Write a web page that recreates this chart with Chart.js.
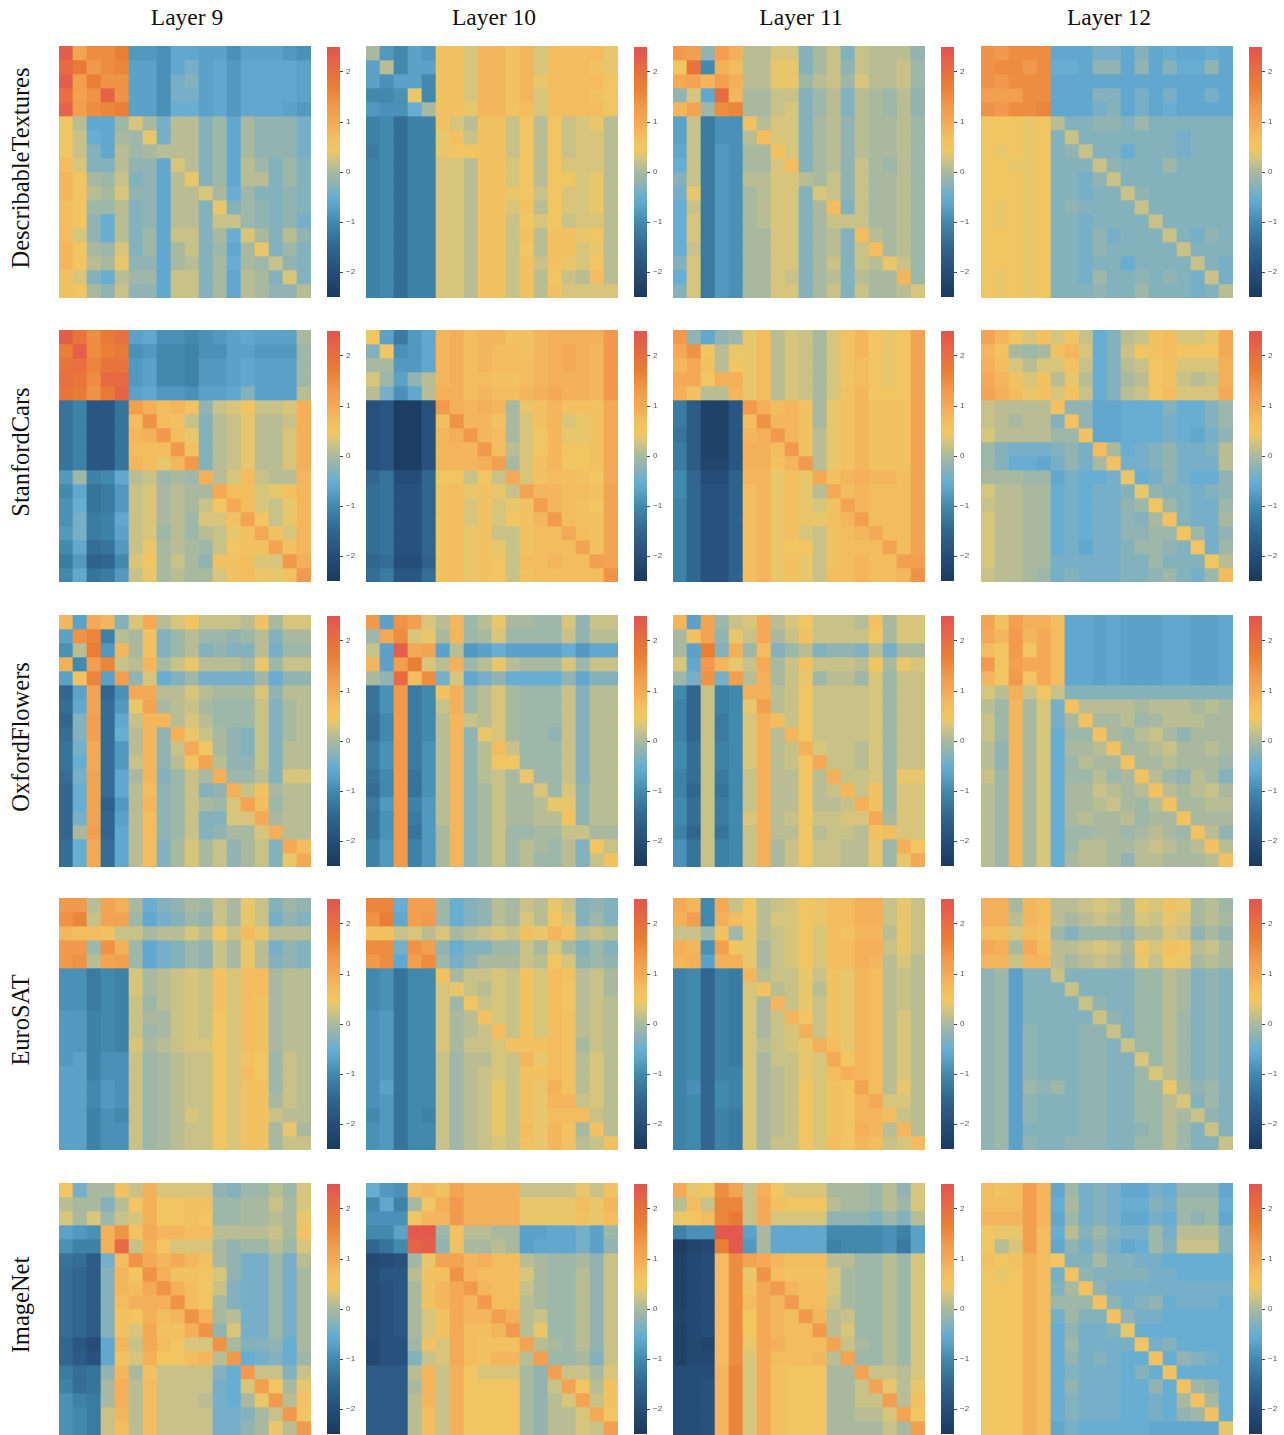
<!DOCTYPE html>
<html>
<head>
<meta charset="utf-8">
<script src="https://cdn.jsdelivr.net/npm/chart.js@4/dist/chart.umd.js"></script>
<style>
  html, body { margin: 0; padding: 0; background: #fff; }
  #page { position: relative; width: 1284px; height: 1435px; overflow: hidden; }
  canvas { position: absolute; }
  .col-title, .row-title { position: absolute; font-family: "Liberation Serif", serif; color: #111; white-space: nowrap; }
  .col-title { font-size: 23.5px; top: 4px; transform: translateX(-50%); }
  .row-title { font-size: 24.5px; left: 21px; transform: translate(-50%, -50%) rotate(-90deg); }
</style>
</head>
<body>
<div id="page"></div>
<script>
const layerLabels = ['Layer 9', 'Layer 10', 'Layer 11', 'Layer 12']
const datasetLabels = ['DescribableTextures', 'StanfordCars', 'OxfordFlowers', 'EuroSAT', 'ImageNet']
const colorbarTicks = [-2, -1, 0, 1, 2]
const colorStopValues = [-2.5, -2, -1.5, -1, -0.7, -0.5, -0.25, 0, 0.3, 0.45, 0.7, 1, 1.3, 1.7, 2, 2.5]
const colorStopHex = ['#1b3a5e', '#264d78', '#306690', '#4289ae', '#5ca1c8', '#68add2', '#8bb3b6', '#a9b9a0', '#d8c57c', '#f0c763', '#f3bd5f', '#f4a956', '#f19a4d', '#e87f35', '#e86f3f', '#e25450']

// all matrix values are in tenths
const describableL9 = [
[23,11,15,15,17,-8,-8,-9,-6,-6,-7,-7,-9,-7,-7,-7,-8,-9],
[21,18,13,15,16,-7,-7,-9,-6,-4,-7,-6,-8,-6,-6,-6,-6,-7],
[23,12,17,14,14,-7,-7,-9,-4,-3,-7,-6,-8,-6,-6,-6,-6,-7],
[20,12,14,22,14,-7,-7,-9,-4,-4,-7,-6,-8,-6,-6,-6,-6,-7],
[22,12,15,16,17,-7,-7,-9,-5,-5,-7,-6,-8,-6,-6,-6,-7,-8],
[5,1,-6,-6,-1,3,0,-4,1,1,-3,-1,-6,0,-2,-2,-2,-4],
[5,2,-5,-6,0,-1,4,-4,1,1,-3,-1,-6,0,-2,-2,-2,-4],
[5,2,-3,-6,1,-1,0,1,1,1,-3,-1,-6,0,-2,-2,-2,-4],
[7,3,-3,-3,1,-2,-2,-6,3,1,-3,-1,-6,1,-1,-3,-1,-3],
[8,5,0,-1,2,-3,-2,-6,1,4,-3,-1,-6,1,1,-3,-1,-3],
[8,5,1,0,3,-2,-2,-6,1,1,3,0,-5,-1,-3,-3,-2,-3],
[7,5,-1,-1,1,-3,-2,-6,1,1,-3,4,-3,-1,-2,-3,-2,-3],
[7,5,-2,-5,1,-3,-2,-6,1,1,-3,2,2,-1,-2,-3,-2,-4],
[7,3,-2,-5,1,-3,-1,-6,2,2,-3,0,-5,3,0,-3,1,-2],
[8,5,0,-1,3,-3,-1,-6,0,2,-3,-1,-6,0,4,-3,-1,-3],
[8,5,1,0,4,-2,-2,-6,0,1,-3,0,-5,0,-1,2,-2,-3],
[6,3,-3,-5,1,-1,-1,-6,2,2,-3,0,-6,1,0,-3,3,-3],
[6,5,0,-2,2,-2,-2,-6,2,2,-3,0,-6,1,0,-2,-2,1]]
const describableL10 = [
[0,-8,-10,-7,-8,6,6,3,8,8,6,8,3,7,7,7,7,4],
[-7,1,-10,-7,-7,6,6,3,8,8,6,8,3,7,7,7,6,4],
[-7,-9,-7,-7,-10,6,6,3,8,8,6,8,4,7,7,7,7,5],
[-10,-10,-9,4,-10,6,6,3,8,8,6,8,3,7,7,7,6,5],
[-8,-9,-9,-5,0,6,6,4,8,8,6,7,3,7,7,7,7,5],
[-11,-10,-14,-11,-11,6,3,1,6,6,2,5,1,5,2,3,4,1],
[-11,-10,-14,-11,-11,4,6,2,6,6,2,5,1,5,2,3,3,1],
[-12,-10,-14,-11,-11,4,5,5,6,6,2,5,1,5,2,3,3,1],
[-11,-10,-14,-11,-11,3,3,1,6,6,3,5,1,5,3,3,3,1],
[-11,-10,-14,-11,-11,3,3,1,6,6,3,5,1,5,5,3,4,1],
[-11,-10,-14,-11,-11,3,3,1,6,6,4,5,2,5,3,3,4,1],
[-11,-10,-14,-11,-11,3,3,1,6,6,3,6,1,5,3,3,4,1],
[-11,-10,-14,-11,-11,3,3,1,6,6,2,5,3,5,2,3,3,1],
[-11,-10,-14,-11,-11,3,3,1,6,6,2,6,1,6,6,4,5,1],
[-11,-10,-14,-11,-11,3,3,1,6,6,2,5,1,6,6,3,4,1],
[-11,-10,-14,-11,-11,3,3,1,6,6,2,6,2,6,4,3,5,1],
[-11,-10,-14,-11,-11,3,3,1,6,6,2,6,1,5,2,1,7,1],
[-11,-10,-14,-11,-11,3,3,1,6,6,2,6,1,6,3,3,3,3]]
const describableL11 = [
[13,12,-2,12,9,1,1,3,3,-3,0,2,-3,2,1,1,1,-2],
[5,19,-10,9,7,1,1,4,4,-3,0,2,-2,2,1,1,2,-1],
[10,11,8,12,9,1,1,4,4,-1,1,2,-1,3,1,1,2,-1],
[-2,3,-6,21,8,0,0,2,2,-3,-1,1,-3,1,0,-1,1,-2],
[8,11,-1,15,16,0,0,2,3,-3,-1,1,-3,1,0,-1,1,-2],
[-7,2,-12,-9,-9,6,1,3,3,-3,0,1,-2,1,0,0,1,-1],
[-7,2,-12,-9,-9,1,7,3,3,-3,0,1,-2,1,0,0,1,-1],
[-6,2,-12,-8,-9,0,0,6,3,-3,0,1,-2,1,0,0,1,-1],
[-5,2,-12,-8,-9,0,0,3,7,-3,0,1,-2,2,0,-1,1,-1],
[-3,2,-12,-8,-9,1,1,3,3,1,0,2,-2,2,0,0,1,-1],
[-4,4,-12,-8,-9,0,1,3,3,-3,3,2,-2,2,0,0,1,-1],
[-5,2,-12,-8,-9,0,1,3,3,-3,0,7,-3,2,0,0,1,-1],
[-5,3,-12,-8,-9,0,1,3,3,-3,0,2,2,2,0,0,1,-1],
[-5,3,-12,-8,-9,0,0,3,3,-3,0,1,-3,7,1,0,1,-1],
[-5,2,-12,-8,-9,0,0,3,3,-3,0,1,-3,2,7,0,1,-1],
[-3,3,-12,-8,-9,0,0,3,3,-3,0,2,-3,2,1,4,2,-1],
[-5,3,-12,-8,-9,0,0,3,2,-3,0,1,-3,1,0,0,8,-1],
[-3,3,-12,-8,-9,0,0,3,3,-3,0,2,-3,2,0,0,1,3]]
const describableL12 = [
[14,13,15,15,15,-6,-6,-6,-4,-4,-6,-3,-6,-5,-6,-6,-5,-6],
[14,15,15,13,15,-5,-5,-6,-2,-2,-6,-2,-6,-3,-5,-5,-2,-6],
[14,13,15,15,15,-6,-6,-6,-6,-6,-6,-6,-6,-6,-6,-6,-6,-6],
[12,12,12,15,15,-6,-6,-6,-3,-3,-6,-4,-6,-4,-6,-6,-4,-6],
[14,13,15,15,16,-6,-6,-6,-4,-3,-6,-4,-6,-5,-6,-6,-6,-6],
[5,5,5,4,5,1,-3,-3,-2,-2,-3,-1,-3,-3,-3,-3,-3,-3],
[5,5,5,4,5,-3,2,-3,-3,-3,-3,-3,-3,-3,-4,-3,-3,-3],
[5,4,5,4,5,-3,-2,2,-3,-3,-5,-3,-3,-3,-4,-3,-3,-3],
[5,5,4,4,5,-3,-3,-3,2,-2,-3,-3,-3,-1,-3,-3,-3,-3],
[5,5,5,4,5,-3,-3,-4,-2,2,-3,-3,-3,-3,-3,-3,-3,-3],
[5,5,5,4,5,-3,-3,-4,-3,-3,2,-2,-3,-3,-3,-3,-3,-3],
[5,4,5,4,5,-3,-2,-3,-3,-3,-3,2,-3,-3,-3,-3,-3,-3],
[5,4,5,4,5,-3,-3,-4,-3,-3,-3,-3,2,-3,-3,-3,-3,-3],
[5,5,5,4,5,-3,-3,-4,-2,-4,-3,-3,-3,2,-3,-4,-2,-3],
[5,5,5,4,5,-3,-3,-4,-2,-3,-3,-3,-3,-3,2,-3,-3,-3],
[5,5,5,4,5,-3,-3,-4,-3,-3,-5,-3,-3,-3,-3,2,-3,-4],
[5,4,5,4,5,-3,-3,-4,-1,-3,-3,-2,-3,-2,-3,-4,2,-4],
[5,4,5,4,5,-3,-3,-3,-2,-3,-3,-1,-3,-3,-3,-4,-3,1]]
const carsL9 = [
[23,19,15,18,20,-7,-6,-9,-9,-10,-9,-8,-7,-6,-7,-7,-7,0],
[17,23,15,17,18,-9,-8,-10,-10,-11,-9,-9,-7,-7,-8,-8,-8,-1],
[19,20,16,19,19,-8,-7,-10,-10,-11,-8,-8,-7,-6,-7,-7,-7,-1],
[20,19,15,21,21,-8,-7,-10,-10,-11,-8,-8,-7,-6,-7,-7,-7,-1],
[19,18,14,18,22,-7,-6,-8,-8,-9,-7,-7,-6,-3,-7,-7,-7,1],
[-13,-11,-18,-18,-13,12,9,7,8,6,-2,2,3,5,2,2,3,9],
[-13,-11,-18,-18,-13,7,14,7,6,2,-3,1,2,4,1,1,2,9],
[-13,-11,-18,-18,-13,8,9,13,7,4,-3,1,2,4,1,1,3,9],
[-13,-11,-18,-18,-13,7,7,7,13,6,-3,1,2,4,1,1,3,9],
[-13,-11,-18,-18,-13,8,7,4,8,13,-3,1,2,4,1,1,3,9],
[-8,-1,-11,-10,-6,1,2,-1,0,-1,9,1,3,7,2,1,1,8],
[-10,-6,-13,-12,-8,2,3,0,1,0,0,10,7,7,3,4,6,8],
[-9,-5,-13,-12,-8,2,3,0,1,0,2,5,10,7,3,2,4,8],
[-9,-4,-12,-11,-6,2,3,0,1,-1,3,3,6,11,5,2,4,8],
[-8,-4,-12,-11,-7,2,3,-1,1,-1,1,2,4,6,10,6,3,8],
[-10,-6,-14,-13,-8,2,4,0,1,0,-1,2,5,6,6,11,6,8],
[-12,-8,-16,-15,-10,3,5,0,2,0,-2,6,6,7,3,3,13,9],
[-10,-6,-13,-12,-8,2,4,0,1,0,0,3,6,7,4,4,6,13]]
const carsL10 = [
[5,-7,-12,-8,-6,8,9,7,8,8,6,6,8,9,9,9,9,13],
[-3,5,-9,-8,-6,8,9,7,8,7,7,6,8,9,10,9,8,13],
[0,0,-8,-8,-6,8,9,7,8,7,7,7,8,9,10,9,8,13],
[3,-1,-7,-2,1,8,9,7,7,6,6,7,8,9,9,9,8,13],
[1,-4,-9,-6,1,9,9,7,8,7,7,8,9,10,9,9,8,13],
[-19,-18,-24,-24,-19,13,9,8,9,8,0,4,6,8,6,6,6,10],
[-19,-18,-24,-24,-19,7,14,8,8,6,0,3,6,8,3,4,6,10],
[-19,-18,-24,-24,-19,8,9,13,8,7,0,3,5,8,4,4,6,10],
[-19,-18,-24,-24,-19,8,8,8,13,7,1,3,5,8,5,5,6,10],
[-19,-18,-24,-24,-19,8,8,8,9,12,0,3,6,8,5,5,6,10],
[-15,-13,-20,-20,-15,5,5,2,5,2,10,3,6,7,7,6,5,10],
[-14,-13,-19,-19,-15,6,7,4,6,4,2,11,8,8,7,7,6,11],
[-14,-13,-19,-19,-15,6,7,3,6,3,4,6,12,8,7,6,5,11],
[-14,-13,-19,-19,-15,6,7,3,6,3,5,6,8,13,7,6,6,11],
[-14,-13,-19,-19,-15,6,7,4,6,2,2,6,7,7,10,7,6,11],
[-14,-13,-19,-19,-15,6,7,4,6,4,2,6,7,7,7,11,6,11],
[-15,-14,-20,-20,-16,6,7,4,6,5,2,7,7,8,7,7,12,11],
[-14,-12,-18,-18,-14,6,7,4,6,5,2,6,7,7,7,7,7,14]]
const carsL11 = [
[13,-2,-6,-2,-1,4,7,1,3,2,0,3,6,8,5,4,5,11],
[10,14,5,1,4,4,7,1,3,2,0,3,6,8,5,4,5,11],
[8,10,6,1,5,4,7,1,3,2,0,3,6,7,5,4,5,11],
[10,10,5,9,9,4,7,1,3,2,0,3,5,7,5,4,5,11],
[9,6,1,1,8,4,7,1,3,2,0,3,6,8,5,5,5,11],
[-12,-17,-23,-23,-18,13,9,7,8,6,0,4,6,8,6,6,6,11],
[-12,-17,-23,-23,-18,7,14,8,8,6,0,4,6,8,6,6,6,11],
[-13,-17,-23,-23,-18,8,9,13,8,6,1,4,6,8,6,6,6,11],
[-12,-17,-23,-23,-18,9,9,7,13,6,1,4,6,8,6,6,6,11],
[-12,-17,-22,-22,-18,9,9,6,8,13,1,4,6,8,6,6,6,11],
[-10,-15,-20,-20,-16,8,8,4,6,4,10,6,8,9,8,8,7,11],
[-10,-15,-19,-19,-16,7,8,4,6,4,1,10,7,8,7,7,7,11],
[-11,-15,-19,-19,-16,7,8,4,6,4,3,6,11,8,7,7,7,11],
[-11,-15,-19,-19,-16,7,8,4,6,4,4,6,8,12,7,7,7,11],
[-11,-15,-19,-19,-16,7,8,4,6,3,2,6,7,8,10,7,7,11],
[-11,-15,-19,-19,-16,7,8,4,5,5,2,6,7,7,7,11,7,11],
[-11,-15,-19,-19,-16,7,8,4,6,4,2,6,7,8,7,7,12,12],
[-11,-15,-19,-19,-16,7,8,4,6,4,2,7,7,8,7,7,8,14]]
const carsL12 = [
[11,8,5,3,6,3,5,2,-5,-3,1,2,6,7,3,3,4,10],
[8,6,0,-1,0,6,8,3,-5,-3,2,5,6,7,5,5,5,10],
[9,7,3,1,3,3,6,2,-5,-3,1,2,5,6,3,3,3,9],
[10,8,6,3,6,1,4,1,-5,-3,0,1,5,6,2,1,2,9],
[11,9,7,4,6,3,6,2,-5,-3,1,2,5,7,3,3,3,10],
[2,1,1,1,1,6,-2,-2,-6,-6,-5,-5,-5,-3,-5,-5,-3,-1],
[2,1,0,1,1,-3,6,-2,-6,-6,-5,-5,-5,-4,-5,-5,-3,-1],
[3,1,1,1,1,-1,-1,6,-6,-6,-5,-5,-5,-4,-5,-6,-4,-2],
[-1,-3,-4,-4,-4,-3,-2,-4,7,0,-5,-4,-3,-2,-4,-4,-3,1],
[-1,-3,-5,-5,-6,-4,-2,-4,0,6,-4,-4,-3,-2,-4,-4,-4,1],
[0,0,0,-1,-1,-6,-4,-5,-5,-4,4,-5,-4,-2,-4,-5,-5,-2],
[3,1,1,0,0,-5,-4,-5,-4,-4,-3,4,-2,-3,-3,-4,-3,-2],
[2,1,1,0,0,-5,-4,-5,-4,-4,-2,-1,5,-1,-3,-4,-4,-1],
[3,1,1,0,0,-5,-4,-5,-4,-4,-2,-3,0,6,-3,-4,-4,0],
[3,1,1,0,0,-5,-4,-5,-4,-4,-2,-2,-1,-1,5,-1,-4,-2],
[3,1,1,0,0,-5,-4,-6,-4,-4,-3,-1,-1,-2,-3,5,-4,-1],
[3,1,1,0,0,-4,-4,-4,-4,-4,-3,-3,-1,-3,-3,-3,5,1],
[2,1,1,0,-1,-4,-3,-4,-4,-4,-3,-3,-2,-1,-3,-4,-1,7]]
const flowersL9 = [
[8,-7,10,8,-3,3,10,1,3,5,2,2,2,1,6,0,3,3],
[-7,14,16,-11,1,0,6,-3,-1,1,-1,-1,-2,-1,1,-3,0,0],
[-9,1,17,-8,8,0,6,-3,-1,1,-3,-2,-3,-3,1,-4,-1,-1],
[9,-10,12,16,2,1,8,0,2,4,1,1,1,0,4,-1,2,2],
[-7,6,16,-7,12,-2,3,-5,-3,-1,-4,-4,-4,-4,-1,-5,-2,-2],
[-15,-7,11,-15,-9,10,10,1,1,3,1,0,0,0,3,-2,1,1],
[-14,-6,11,-14,-8,4,11,0,1,2,0,-1,-1,-1,2,-3,0,1],
[-15,-3,12,-14,-6,2,8,8,1,3,1,-1,-1,-1,2,-3,0,1],
[-14,-3,12,-14,-5,1,8,-2,9,4,2,0,-2,-3,2,-3,0,1],
[-13,-4,10,-14,-8,1,8,-2,2,10,5,0,-2,-3,2,-3,1,1],
[-13,-5,10,-14,-8,2,8,-2,1,6,11,1,-2,-2,2,-3,1,1],
[-14,-4,11,-14,-6,0,8,-3,-1,2,0,9,-1,-1,1,-3,3,3],
[-15,-5,11,-14,-6,1,7,-2,-1,2,-3,-2,9,2,6,0,1,1],
[-15,-5,11,-16,-8,1,8,-2,-1,2,0,-1,3,11,7,-1,1,1],
[-15,-4,11,-15,-7,1,7,-2,-1,2,-3,-3,3,3,10,0,1,1],
[-15,0,12,-15,-6,1,7,-2,-1,2,-3,-2,0,0,3,9,1,1],
[-14,-5,10,-14,-6,1,7,-3,0,3,0,2,-2,0,2,-3,10,7],
[-14,-5,10,-14,-6,1,7,-3,0,3,0,2,-2,0,2,-3,4,10]]
const flowersL10 = [
[13,-7,14,12,3,1,8,-1,1,4,0,0,-1,-1,3,-2,2,2],
[-1,10,15,3,4,0,8,-1,0,3,-1,-1,-1,-1,2,-2,1,1],
[2,-7,23,10,11,-7,1,-8,-7,-5,-7,-7,-7,-7,-5,-8,-6,-6],
[8,-7,12,17,3,1,9,-1,1,4,1,0,0,0,3,-1,2,2],
[0,-2,21,7,15,-4,3,-6,-4,-2,-5,-5,-5,-5,-2,-6,-3,-3],
[-13,-9,13,-12,-10,6,9,-1,1,3,0,-1,-1,-1,2,-3,1,1],
[-13,-9,13,-12,-10,2,9,-1,1,3,0,-1,-1,-1,2,-3,1,1],
[-14,-10,13,-12,-10,1,8,2,1,3,0,-1,-1,-1,2,-3,1,1],
[-14,-10,13,-12,-10,1,8,-2,4,3,0,-1,-1,-2,2,-3,1,1],
[-12,-9,13,-12,-9,1,8,-2,1,7,2,-1,-1,-1,2,-3,1,1],
[-12,-9,13,-12,-9,1,8,-2,1,5,5,-1,-1,-1,2,-3,1,1],
[-13,-10,13,-13,-9,1,8,-2,1,2,0,4,-1,-1,2,-3,1,1],
[-14,-10,13,-13,-9,1,8,-2,0,2,0,0,3,-1,3,-2,1,1],
[-12,-8,13,-11,-8,1,8,-2,0,2,0,0,1,4,4,-2,1,1],
[-13,-9,13,-12,-8,1,8,-2,0,2,0,0,1,1,6,-2,1,1],
[-13,-9,13,-13,-8,0,8,-2,0,2,-1,-1,0,0,2,2,0,0],
[-11,-8,13,-11,-8,0,8,-2,0,2,-1,1,0,-1,1,-3,5,2],
[-11,-8,13,-11,-8,0,8,-2,0,2,-1,1,-1,-1,1,-3,2,6]]
const flowersL11 = [
[8,-7,11,-1,2,3,10,1,3,5,2,2,2,1,6,0,3,3],
[0,6,11,-2,4,2,10,0,2,6,2,2,2,2,5,0,3,3],
[0,-7,17,-3,9,-1,7,-3,-1,1,-3,-2,-2,-3,1,-4,0,0],
[3,-6,13,8,4,2,10,0,2,6,2,2,2,1,5,0,4,3],
[-1,-4,14,-4,12,1,9,0,2,4,-1,1,1,-1,3,-1,2,2],
[-10,-15,2,-11,-10,9,9,1,2,5,2,2,2,2,3,-1,2,2],
[-11,-15,2,-11,-10,4,12,1,2,5,2,2,2,2,3,-1,2,2],
[-11,-15,2,-12,-10,3,9,7,2,5,2,2,2,2,3,-1,2,2],
[-11,-15,2,-12,-10,3,9,1,8,5,2,2,2,2,3,-1,2,2],
[-10,-14,2,-11,-10,3,9,1,2,9,3,2,2,1,3,-1,2,2],
[-10,-14,2,-11,-10,3,9,1,2,5,10,2,2,1,3,-1,2,2],
[-11,-14,2,-12,-10,2,9,1,1,5,1,9,2,2,3,-1,4,4],
[-11,-15,2,-13,-10,2,9,1,1,5,1,2,8,2,6,-1,3,3],
[-10,-14,2,-12,-10,2,9,1,1,5,1,1,2,9,6,-1,3,3],
[-10,-14,2,-12,-10,3,9,1,2,5,2,2,3,3,10,0,3,3],
[-11,-15,2,-13,-10,2,9,1,1,5,1,2,2,1,6,7,3,3],
[-9,-13,2,-11,-10,2,9,0,2,5,2,2,1,1,4,-1,9,5],
[-9,-13,2,-11,-10,2,9,0,2,5,2,2,1,1,4,-1,4,10]]
const flowersL12 = [
[11,6,12,9,9,7,-6,-6,-7,-6,-7,-7,-7,-6,-6,-7,-7,-6],
[10,8,13,8,10,7,-6,-6,-7,-6,-7,-7,-7,-6,-6,-7,-7,-6],
[7,5,13,5,10,7,-6,-6,-7,-6,-7,-7,-7,-6,-6,-7,-7,-6],
[13,5,12,10,10,7,-6,-6,-7,-6,-7,-7,-7,-6,-6,-7,-7,-6],
[8,5,13,5,10,7,-6,-6,-7,-6,-7,-7,-7,-6,-6,-7,-7,-6],
[3,1,9,2,5,2,-3,-3,-3,-3,-3,-3,-3,-3,-3,-3,-3,-3],
[1,-1,8,0,3,-4,6,1,1,1,1,0,1,1,1,0,1,0],
[2,-1,8,0,3,-4,0,6,0,0,1,-1,0,1,1,1,0,0],
[2,-1,8,0,3,-5,-1,-1,6,0,-1,1,2,0,-2,0,0,0],
[1,-2,8,0,3,-5,0,0,1,6,0,0,1,2,0,0,1,0],
[1,-2,8,0,3,-5,-1,1,0,0,6,0,0,1,0,0,0,-1],
[2,-1,8,0,3,-5,-1,-1,1,-1,0,6,1,-1,-2,1,0,-3],
[1,-1,8,0,3,-5,0,0,2,1,0,1,6,1,0,1,2,0],
[1,-1,8,0,3,-5,0,0,1,2,0,-1,1,6,0,0,1,1],
[1,-1,8,0,3,-5,0,1,0,0,1,-1,0,0,6,0,0,0],
[1,-1,8,0,3,-5,-1,-1,0,0,-1,0,1,0,-1,6,1,-2],
[1,-1,8,0,3,-5,-1,1,1,0,0,1,2,1,0,1,6,1],
[1,-1,8,0,3,-5,0,1,1,0,-2,1,1,0,0,0,1,6]]
const eurosatL9 = [
[13,13,1,11,9,0,-5,-3,-2,0,-1,2,0,4,2,-3,-1,-2],
[14,16,2,11,11,-1,-6,-4,-3,-1,-2,2,0,4,2,-4,-2,-3],
[8,7,7,6,2,2,0,1,1,3,1,5,2,7,4,1,1,1],
[13,13,-1,14,9,-1,-6,-4,-3,-1,-2,2,0,4,1,-4,-2,-3],
[13,14,1,11,12,-1,-6,-4,-3,-1,-2,2,0,4,1,-3,-2,-3],
[-9,-9,-12,-10,-11,3,0,1,2,3,2,6,3,7,7,0,1,1],
[-9,-9,-12,-10,-11,3,0,1,2,3,2,6,3,7,7,0,1,1],
[-9,-9,-12,-10,-11,2,-1,1,2,3,2,6,3,7,6,0,1,1],
[-8,-8,-11,-10,-11,2,0,0,2,3,2,5,3,7,6,0,1,1],
[-8,-8,-11,-10,-11,2,-1,0,2,3,2,5,3,7,6,0,1,1],
[-8,-8,-11,-10,-11,3,0,1,2,3,3,5,3,7,6,0,1,1],
[-8,-7,-11,-9,-9,2,-1,0,1,2,2,5,3,6,5,-1,2,1],
[-7,-7,-11,-9,-9,2,-1,0,1,2,2,5,3,7,5,-1,2,1],
[-7,-7,-10,-8,-9,2,-1,0,1,2,2,5,3,6,6,-1,2,1],
[-7,-7,-10,-8,-9,2,-1,0,1,2,2,5,3,6,6,0,2,1],
[-7,-7,-11,-9,-10,2,-1,0,1,3,2,5,3,6,6,2,1,1],
[-7,-7,-11,-9,-9,2,-1,0,1,2,2,5,3,6,6,0,4,0],
[-7,-7,-11,-9,-9,2,-1,0,1,2,2,5,3,6,6,0,2,2]]
const eurosatL10 = [
[16,16,-5,12,12,-1,-5,-3,-2,1,0,2,1,4,2,-3,-2,-3],
[14,17,-6,12,13,-1,-5,-3,-2,1,0,3,1,5,3,-3,-1,-3],
[6,6,2,3,1,3,0,1,2,3,2,6,4,8,6,1,2,1],
[15,15,-4,14,12,-2,-5,-3,-3,-1,-1,2,0,3,0,-3,-1,-3],
[13,15,-6,12,15,-1,-4,-2,0,0,0,2,1,5,3,-2,-1,-2],
[-10,-9,-13,-10,-10,6,0,2,2,3,2,6,3,7,6,1,2,0],
[-10,-9,-13,-10,-10,3,4,2,1,3,2,6,3,7,5,1,2,0],
[-10,-9,-13,-10,-10,3,-1,5,2,3,2,6,3,7,5,1,2,1],
[-9,-8,-13,-10,-10,3,0,1,6,3,2,6,3,7,6,1,2,1],
[-9,-8,-13,-10,-10,3,0,1,2,7,2,6,3,7,6,1,2,1],
[-9,-8,-13,-10,-10,3,0,2,2,3,6,6,6,7,6,0,2,1],
[-9,-8,-13,-10,-10,2,-1,1,1,3,2,8,4,7,6,1,3,1],
[-9,-8,-13,-10,-10,2,-1,1,2,3,2,6,6,7,6,1,3,1],
[-9,-7,-13,-10,-10,2,-1,1,2,4,2,6,4,9,6,1,3,1],
[-9,-8,-13,-10,-10,2,-1,1,2,4,2,6,4,8,8,2,3,1],
[-10,-8,-13,-10,-11,2,-1,1,2,4,2,6,4,7,7,7,2,1],
[-9,-8,-13,-10,-10,2,-1,1,2,4,2,7,4,8,6,0,6,1],
[-9,-8,-13,-10,-10,2,-1,1,2,3,2,6,4,8,6,1,2,6]]
const eurosatL11 = [
[10,8,-10,10,2,5,1,2,3,5,4,7,7,9,9,2,4,2],
[9,12,-10,9,7,5,1,3,3,5,4,7,7,9,9,2,4,2],
[2,2,-1,6,-1,4,1,2,3,5,3,7,6,8,8,1,4,2],
[9,8,-9,12,5,4,0,2,3,5,3,7,7,9,9,2,4,2],
[8,9,-7,9,9,4,0,2,3,5,3,7,7,9,8,1,3,1],
[-11,-10,-15,-11,-12,8,1,2,2,4,2,6,4,8,7,1,2,1],
[-11,-10,-15,-11,-12,3,6,1,2,4,1,6,4,8,7,1,2,1],
[-11,-10,-15,-11,-12,3,0,8,2,4,2,6,4,8,7,1,2,1],
[-11,-10,-15,-11,-12,3,0,2,8,5,2,6,4,8,7,1,3,1],
[-11,-10,-15,-11,-12,3,0,2,3,9,2,6,4,8,7,1,3,1],
[-11,-10,-15,-11,-12,3,1,2,3,4,9,7,4,8,7,1,3,1],
[-11,-10,-15,-11,-12,3,0,2,2,4,3,10,5,8,7,1,3,1],
[-11,-10,-15,-11,-11,3,0,1,2,4,3,7,9,8,7,1,3,1],
[-11,-9,-15,-10,-11,3,0,1,2,5,3,6,5,11,7,1,4,1],
[-11,-10,-15,-10,-11,3,0,1,2,5,3,6,5,8,10,3,3,1],
[-11,-10,-15,-11,-12,3,0,1,2,5,3,6,5,8,8,7,2,1],
[-11,-10,-15,-11,-12,3,0,1,2,5,3,6,5,9,8,1,8,1],
[-11,-10,-15,-11,-12,3,0,2,2,5,3,7,5,8,7,2,3,7]]
const eurosatL12 = [
[9,9,0,8,7,1,1,2,3,2,0,4,3,6,4,0,1,-1],
[9,9,1,8,7,1,0,1,2,1,0,3,2,4,3,0,1,0],
[7,7,3,7,6,-1,-3,-1,-1,-1,-2,1,1,3,2,-2,0,-2],
[10,9,0,10,7,1,1,2,3,2,0,5,3,6,5,1,2,0],
[8,8,2,8,8,1,0,1,2,1,-1,4,2,5,4,0,1,0],
[-2,-1,-7,-3,-3,2,-3,-3,-3,-3,-3,-1,-1,1,0,-3,-2,-3],
[-2,-1,-7,-3,-3,-3,2,-3,-3,-3,-3,-1,-1,1,0,-3,-2,-3],
[-2,-1,-7,-3,-3,-3,-3,2,-2,-3,-3,-1,-1,1,0,-3,-2,-3],
[-2,-1,-7,-3,-3,-3,-3,-3,2,-2,-3,-1,-1,1,-1,-3,-2,-3],
[-2,-1,-7,-2,-3,-3,-3,-2,-2,2,-3,-1,-1,1,-1,-3,-2,-3],
[-2,-1,-7,-2,-3,-3,-3,-2,-2,-3,2,-1,-1,1,-1,-3,-2,-3],
[-2,-1,-7,-2,-3,-3,-3,-2,-2,-3,-3,3,-1,1,-1,-3,-2,-3],
[-2,-1,-7,-2,-3,-3,-3,-2,-2,-3,-3,-1,3,1,-1,-3,-2,-3],
[-2,-1,-7,-1,-2,-1,-3,-2,-2,-3,-3,-1,-1,4,0,-2,-1,-3],
[-2,-1,-7,-2,-3,-3,-3,-2,-2,-3,-3,-1,-1,1,3,-3,-1,-3],
[-2,-1,-7,-2,-3,-3,-3,-2,-2,-3,-3,-1,-1,1,0,2,-2,-3],
[-2,-1,-7,-3,-3,-3,-3,-2,-2,-3,-3,-2,-1,1,-1,-3,2,-3],
[-2,-1,-7,-2,-3,-3,-2,-2,-2,-3,-3,-1,-1,1,-1,-3,-3,2]]
const imagenetL9 = [
[5,-4,0,0,6,2,9,3,3,3,3,-2,-3,-1,-1,1,-1,3],
[1,0,0,-3,1,5,9,5,5,6,6,-1,-1,0,0,2,0,3],
[3,0,3,-1,2,3,9,5,5,6,5,-1,-1,0,0,1,0,4],
[-7,-8,-9,9,14,6,10,8,8,7,7,1,1,1,1,2,0,6],
[-9,-11,-11,9,21,2,9,5,3,3,3,0,-2,-1,-1,1,-1,3],
[-13,-14,-17,-4,7,14,10,8,10,8,6,0,-2,-4,-4,-1,-4,1],
[-14,-15,-17,-3,8,5,14,9,6,6,5,3,-2,-4,-4,-1,-4,0],
[-14,-15,-17,-3,8,7,10,14,9,7,5,2,-3,-4,-4,-1,-4,0],
[-14,-15,-17,-3,7,9,9,9,14,7,5,0,-3,-4,-4,-1,-4,0],
[-14,-15,-17,-3,6,5,9,7,8,14,9,0,1,-4,-4,-1,-4,0],
[-14,-15,-17,-3,6,3,10,6,6,9,14,-2,3,-4,-4,-1,-4,0],
[-15,-18,-20,-6,8,2,10,7,5,3,3,14,0,-3,-3,-2,-5,0],
[-15,-17,-19,-6,6,3,9,5,5,7,8,1,13,-5,-4,-3,-5,-1],
[-12,-14,-13,-2,8,0,6,2,2,2,2,-3,-5,13,2,2,-3,2],
[-11,-14,-13,0,9,1,7,2,2,2,2,-4,-5,3,12,5,0,4],
[-9,-11,-12,0,9,1,7,2,2,2,1,-4,-5,0,4,13,1,6],
[-9,-10,-12,2,8,1,7,2,2,2,2,-4,-4,-3,0,2,13,5],
[-9,-10,-12,2,7,1,7,2,2,2,2,-4,-4,-2,0,4,1,13]]
const imagenetL10 = [
[-5,-8,-9,7,8,6,11,9,9,9,9,2,2,2,2,4,2,6],
[-10,-6,-11,0,5,9,13,9,9,9,9,4,4,4,4,7,4,8],
[-9,-9,-9,5,8,8,13,9,9,9,9,4,4,4,4,6,4,7],
[-10,-10,-7,24,24,-1,6,1,1,0,0,-7,-7,-6,-6,-4,-7,-1],
[-15,-13,-10,22,23,-2,6,0,0,1,0,-7,-6,-6,-6,-4,-7,-2],
[-21,-20,-19,-1,4,11,11,8,9,7,7,1,0,-1,-1,0,-2,2],
[-20,-18,-18,1,6,6,14,8,7,7,7,3,0,-1,-1,1,-2,2],
[-20,-19,-18,0,6,8,10,13,8,7,7,2,0,-1,-1,1,-2,2],
[-20,-19,-18,0,6,8,10,8,13,7,7,1,0,-1,-1,1,-2,2],
[-20,-19,-18,0,3,6,10,8,8,12,9,1,2,-1,-1,1,-2,2],
[-20,-19,-18,0,3,6,10,7,7,8,13,1,4,-1,-1,1,-2,2],
[-21,-19,-19,-1,6,3,10,7,6,6,6,11,1,0,-1,1,-2,2],
[-21,-19,-19,-3,2,3,10,7,6,8,8,1,12,-1,-1,0,-3,2],
[-17,-17,-17,1,8,2,9,5,3,3,3,0,-2,12,2,2,0,3],
[-17,-17,-17,0,8,2,9,5,5,5,5,0,-2,2,11,5,1,6],
[-17,-17,-17,1,8,2,9,5,5,5,5,0,-2,1,3,11,2,6],
[-17,-17,-17,1,7,2,9,5,5,5,5,0,-2,1,1,3,10,5],
[-17,-17,-17,1,7,2,9,5,5,5,5,0,-2,1,1,3,2,12]]
const imagenetL11 = [
[10,4,5,15,11,2,9,5,3,3,3,0,0,0,-1,1,-2,3],
[1,7,2,16,16,2,10,6,5,5,5,1,0,0,-1,1,-1,3],
[4,5,7,16,18,2,10,3,3,3,3,-2,-2,-2,-3,-1,-3,1],
[-11,-9,-9,24,24,-7,0,-6,-6,-6,-6,-10,-10,-10,-10,-9,-11,-7],
[-24,-22,-21,17,24,-8,0,-6,-6,-6,-6,-11,-10,-10,-10,-9,-12,-7],
[-23,-21,-20,7,15,11,10,8,7,7,7,1,1,-1,-1,1,-1,3],
[-23,-21,-20,7,15,4,14,7,6,6,6,3,0,-1,-1,1,-1,3],
[-23,-21,-20,7,15,6,10,13,8,7,7,3,0,-1,-1,1,-1,3],
[-23,-21,-20,7,15,7,10,8,13,7,7,2,0,-1,-1,1,-1,3],
[-22,-21,-20,7,15,5,10,8,7,13,8,1,2,-1,-1,1,-1,3],
[-23,-21,-20,7,15,5,10,8,7,7,13,1,3,-1,-1,1,-1,3],
[-23,-21,-22,7,15,4,10,9,7,7,7,11,2,0,-1,1,-1,3],
[-23,-21,-21,7,15,3,10,7,7,7,8,1,11,-1,-1,1,-1,3],
[-20,-20,-20,8,16,3,10,6,5,5,5,0,0,11,2,2,1,3],
[-20,-20,-19,8,16,3,10,6,5,5,5,0,0,2,11,4,1,4],
[-20,-20,-19,8,16,3,10,6,5,5,5,0,0,2,2,12,1,6],
[-20,-20,-19,8,16,3,10,6,5,5,5,0,0,1,1,3,11,5],
[-20,-20,-19,8,16,3,10,6,5,5,5,0,0,0,0,2,0,12]]
const imagenetL12 = [
[7,6,7,12,8,-6,-1,-4,-3,-4,-6,-6,-4,-5,-2,-2,-2,-6],
[7,7,7,12,8,-5,0,-4,-3,-4,-5,-5,-3,-4,-1,-1,-1,-5],
[8,8,8,12,8,-6,-1,-4,-3,-4,-6,-6,-4,-5,-1,-2,-1,-6],
[5,4,4,12,7,-5,1,-3,-1,-3,-4,-4,-1,-4,1,1,1,-3],
[5,1,3,12,7,-6,-2,-4,-2,-4,-6,-5,-1,-3,2,2,2,-3],
[6,5,6,9,7,5,-3,-3,0,-3,-3,-4,-4,-5,-5,-5,-5,-5],
[5,4,5,9,7,-4,6,-2,-3,-3,-3,-3,-4,-4,-5,-5,-5,-5],
[5,5,5,9,7,-3,0,6,-2,-4,-4,-4,-4,-4,-4,-4,-4,-4],
[5,5,5,9,7,-1,-1,-1,6,-2,-4,-3,-2,-5,-4,-4,-4,-5],
[5,5,5,9,7,-4,-1,-3,-3,6,-2,-4,-4,-5,-5,-5,-5,-5],
[5,5,5,9,7,-5,-2,-4,-4,-3,4,-5,-5,-5,-5,-5,-5,-5],
[5,5,5,9,7,-5,-1,-4,-4,-4,-4,5,-4,-3,-5,-5,-5,-5],
[5,5,5,9,7,-5,-2,-4,-3,-4,-5,-5,6,-5,-2,-3,-4,-5],
[5,5,5,9,7,-5,-3,-4,-4,-4,-5,-3,-5,6,-5,-5,-5,-5],
[5,5,5,9,7,-5,-2,-4,-4,-4,-5,-5,-2,-5,6,-1,-2,-5],
[5,5,5,9,7,-5,-3,-4,-4,-4,-5,-5,-4,-5,0,6,0,-5],
[5,5,5,9,7,-5,-3,-4,-4,-4,-5,-5,-4,-5,-2,-1,6,-5],
[5,5,5,9,7,-6,-4,-5,-5,-5,-5,-5,-6,-6,-6,-6,-6,4]]

const matrices = [
  [describableL9, describableL10, describableL11, describableL12],
  [carsL9, carsL10, carsL11, carsL12],
  [flowersL9, flowersL10, flowersL11, flowersL12],
  [eurosatL9, eurosatL10, eurosatL11, eurosatL12],
  [imagenetL9, imagenetL10, imagenetL11, imagenetL12]
]

const page = document.getElementById('page')
const heatLefts = [59, 366, 673, 981]
const heatTops = [46, 330, 615, 898, 1183]
const heatSize = 252
const barGap = 268
const barWidth = 13
const barAxisWidth = 27
const barHeight = 250

function hexToRgb(hex) {
  const n = parseInt(hex.slice(1), 16)
  return [(n >> 16) & 255, (n >> 8) & 255, n & 255]
}

// same piecewise ramp as the colorbar
function colorOf(value) {
  const v = Math.max(-2.5, Math.min(2.5, value))
  let i = 0
  while (i < colorStopValues.length - 2 && v > colorStopValues[i + 1]) i++
  const t = (v - colorStopValues[i]) / (colorStopValues[i + 1] - colorStopValues[i])
  const a = hexToRgb(colorStopHex[i])
  const b = hexToRgb(colorStopHex[i + 1])
  const mix = a.map((c, k) => Math.round(c + (b[k] - c) * t))
  return `rgb(${mix[0]}, ${mix[1]}, ${mix[2]})`
}

function addCanvas(left, top, width, height) {
  const canvas = document.createElement('canvas')
  canvas.width = width
  canvas.height = height
  canvas.style.left = `${left}px`
  canvas.style.top = `${top}px`
  page.appendChild(canvas)
  return canvas
}

function drawHeatmap(canvas, matrix) {
  const cols = matrix[0].map((_, i) => i)
  new Chart(canvas, {
    type: 'bar',
    data: {
      labels: cols,
      datasets: matrix.map((row, r) => ({
        data: row.map(() => [r, r + 1]),
        backgroundColor: row.map(v => colorOf(v / 10)),
        borderWidth: 0,
        barPercentage: 1,
        categoryPercentage: 1,
        grouped: false
      }))
    },
    options: {
      responsive: false,
      animation: false,
      layout: { padding: 0 },
      plugins: { legend: { display: false }, tooltip: { enabled: false } },
      scales: {
        x: { display: false },
        y: { display: false, min: 0, max: matrix.length, reverse: true }
      }
    }
  })
}

function drawColorbar(canvas) {
  // the plot area fills the canvas height, so the ramp runs bottom to top
  const grad = canvas.getContext('2d').createLinearGradient(0, canvas.height, 0, 0)
  colorStopValues.forEach((v, i) => grad.addColorStop((v + 2.5) / 5, colorStopHex[i]))
  new Chart(canvas, {
    type: 'bar',
    data: {
      labels: [''],
      datasets: [{
        data: [[-2.5, 2.5]],
        borderWidth: 0,
        barPercentage: 1,
        categoryPercentage: 1,
        backgroundColor: grad
      }]
    },
    options: {
      responsive: false,
      animation: false,
      layout: { padding: 0 },
      plugins: { legend: { display: false }, tooltip: { enabled: false } },
      scales: {
        x: { display: false },
        y: {
          position: 'right',
          min: -2.5,
          max: 2.5,
          afterBuildTicks: scale => {
            scale.ticks = colorbarTicks.map(v => ({ value: v }))
          },
          afterFit: scale => {
            scale.width = barAxisWidth
            scale.paddingTop = 0
            scale.paddingBottom = 0
          },
          border: { display: false },
          grid: { drawOnChartArea: false, drawTicks: true, tickLength: 3, tickColor: '#444', lineWidth: 1 },
          ticks: {
            padding: 3,
            color: '#555',
            font: { family: 'Liberation Sans', size: 8 },
            callback: value => String(value).replace('-', '\u2212')
          }
        }
      }
    }
  })
}

layerLabels.forEach((label, c) => {
  const title = document.createElement('div')
  title.className = 'col-title'
  title.textContent = label
  title.style.left = `${heatLefts[c] + heatSize / 2 + 2}px`
  page.appendChild(title)
})

datasetLabels.forEach((label, r) => {
  const title = document.createElement('div')
  title.className = 'row-title'
  title.textContent = label
  title.style.top = `${heatTops[r] + heatSize / 2 - 4}px`
  page.appendChild(title)

  heatLefts.forEach((left, c) => {
    drawHeatmap(addCanvas(left, heatTops[r], heatSize, heatSize), matrices[r][c])
    drawColorbar(addCanvas(left + barGap, heatTops[r] + 1, barWidth + barAxisWidth, barHeight))
  })
})
</script>
</body>
</html>
